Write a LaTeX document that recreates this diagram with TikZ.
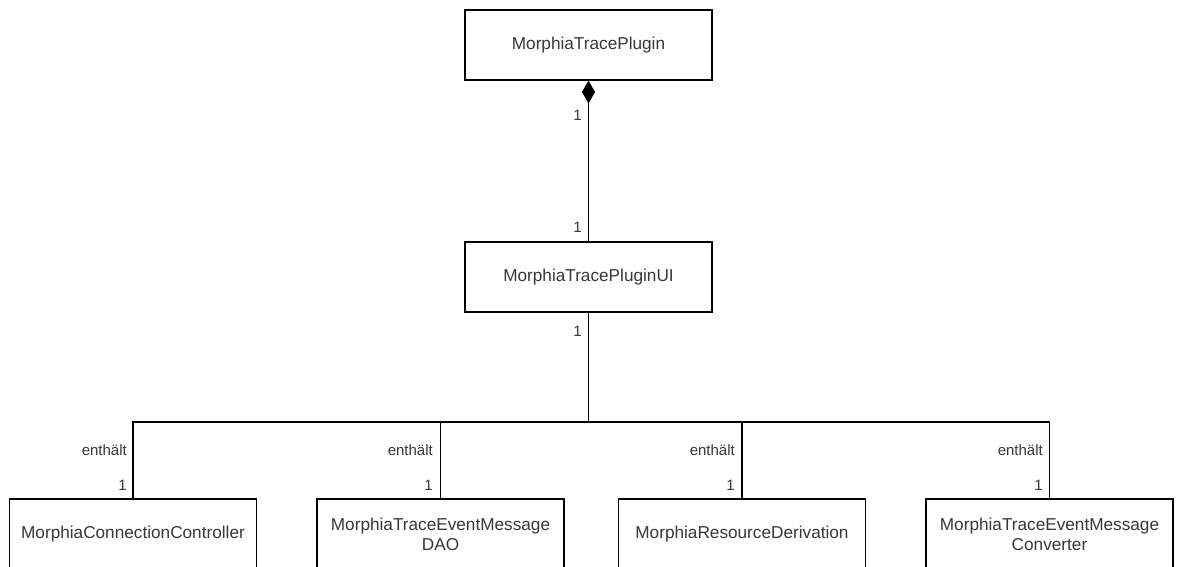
\documentclass[tikz,border=0pt]{standalone}
\usepackage{fontspec}
\setmainfont{Liberation Sans}
\usetikzlibrary{arrows.meta}
\begin{document}
\begin{tikzpicture}[x=1pt,y=-1pt,
  cls/.style={draw=black,line width=1.1pt,fill=white,minimum width=247pt,minimum height=70pt,inner sep=0pt,align=center,text=black!78,font=\fontsize{17.2}{20}\selectfont},
  conn/.style={draw=black,line width=1.1pt},
  lbl/.style={anchor=east,inner sep=0pt,text=black!78,font=\fontsize{15}{17}\selectfont}]
\clip (0,0) rectangle (1179,567);
\fill[white] (0,0) rectangle (1179,567);
\node[cls] (top) at (588.5,45) {MorphiaTracePlugin};
\node[cls] (ui) at (588.5,277) {MorphiaTracePluginUI};
\node[cls] (b1) at (133,534) {MorphiaConnectionController};
\node[cls] (b2) at (440.5,534) {MorphiaTraceEventMessage\\DAO};
\node[cls] (b3) at (742,534) {MorphiaResourceDerivation};
\node[cls] (b4) at (1049.5,534) {MorphiaTraceEventMessage\\Converter};
\coordinate (bus) at (588.5,422);
\draw[conn,{Diamond[length=23pt,width=13pt]}-] (top.south) -- (ui.north);
\draw[conn] (ui.south) -- (bus);
\draw[conn] (bus) -| (b1.north);
\draw[conn] (bus) -| (b2.north);
\draw[conn] (bus) -| (b3.north);
\draw[conn] (bus) -| (b4.north);
\node[lbl] (m1) at (582,115) {1};
\node[lbl] (m2) at (582,227) {1};
\node[lbl] (m3) at (582,331) {1};
\node[lbl] (e1) at (127,450) {enthält};
\node[lbl] (n1) at (127,485) {1};
\node[lbl] (e2) at (433,450) {enthält};
\node[lbl] (n2) at (433,485) {1};
\node[lbl] (e3) at (735,450) {enthält};
\node[lbl] (n3) at (735,485) {1};
\node[lbl] (e4) at (1043,450) {enthält};
\node[lbl] (n4) at (1043,485) {1};
\end{tikzpicture}
\end{document}
